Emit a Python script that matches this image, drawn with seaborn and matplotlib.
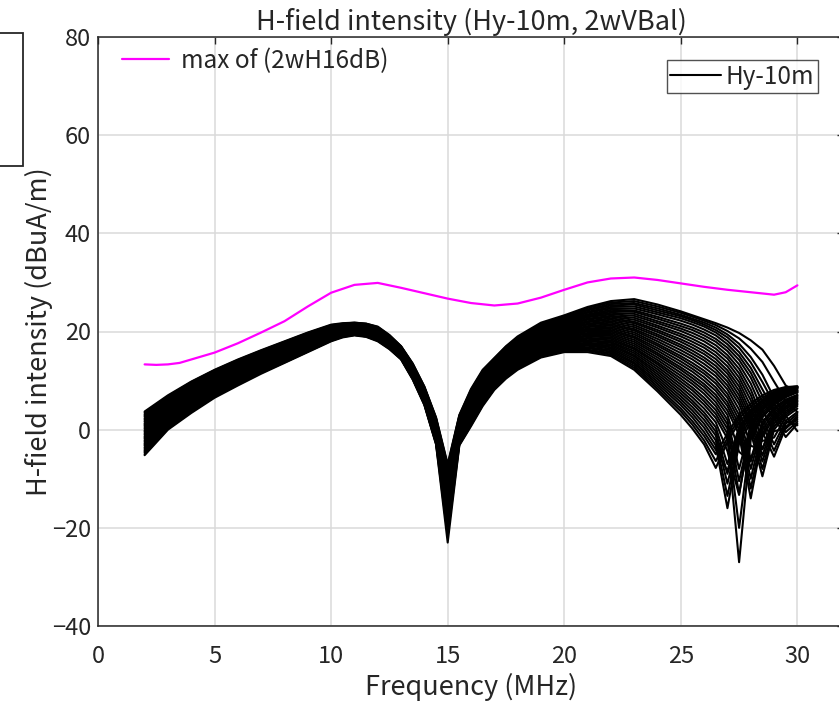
import numpy as np
import pandas as pd
import matplotlib
matplotlib.use("Agg")
import matplotlib.pyplot as plt
import seaborn as sns
from matplotlib.lines import Line2D
from matplotlib.patches import Rectangle

# ---------------- data (read / estimated from the reference) ----------------
freq_hy = [2, 3, 4, 5, 6, 7, 8, 9, 10, 10.5, 11, 11.5, 12, 12.5, 13, 13.5, 14, 14.5, 15, 15.5,
           16, 16.5, 17, 17.5, 18, 19, 20, 21, 22,
           23, 24, 25, 25.5, 26, 26.5, 27, 27.5, 28, 28.5, 29, 29.5, 30]

hy_01 = [-5.2, 0.0, 3.4, 6.5, 9.0, 11.4, 13.6, 15.8, 18.0, 18.8, 19.2, 18.9, 18.0, 16.4, 14.3, 10.2, 5.0, -3.0, -23.0, -3.2, 0.7, 4.8, 8.1, 10.4, 12.2, 14.7, 15.8, 15.8, 15.0,
         12.2, 7.8, 3.0, 0.2, -3.0, -7.8, -2.5, 1.5, 4.0, 6.0, 7.5, 8.5, 8.8]
hy_02 = [-5.0, 0.2, 3.6, 6.7, 9.2, 11.6, 13.7, 15.9, 18.1, 18.9, 19.3, 19.0, 18.1, 16.5, 14.4, 10.3, 5.1, -2.9, -21.5, -3.1, 0.9, 5.0, 8.3, 10.6, 12.4, 14.9, 16.0, 16.1, 15.3,
         12.6, 8.3, 3.7, 1.0, -2.2, -6.4, -1.7, 2.3, 4.7, 6.5, 7.8, 8.6, 8.8]
hy_03 = [-4.7, 0.4, 3.7, 6.8, 9.3, 11.7, 13.8, 16.0, 18.2, 19.0, 19.3, 19.0, 18.2, 16.6, 14.4, 10.4, 5.2, -2.7, -20.0, -2.9, 1.1, 5.2, 8.4, 10.7, 12.6, 15.1, 16.2, 16.3, 15.6,
         13.0, 8.8, 4.3, 1.7, -1.3, -5.0, -0.8, 3.0, 5.3, 7.0, 8.1, 8.7, 8.8]
hy_04 = [-4.5, 0.6, 3.9, 7.0, 9.5, 11.8, 14.0, 16.1, 18.3, 19.1, 19.4, 19.1, 18.3, 16.7, 14.5, 10.5, 5.3, -2.6, -19.0, -2.7, 1.3, 5.4, 8.6, 10.9, 12.8, 15.3, 16.4, 16.6, 15.9,
         13.4, 9.3, 5.0, 2.5, -0.5, -4.1, -8.4, 0.1, 3.4, 5.8, 7.3, 8.2, 8.6]
hy_05 = [-4.3, 0.7, 4.1, 7.1, 9.6, 11.9, 14.1, 16.2, 18.4, 19.1, 19.5, 19.2, 18.3, 16.7, 14.6, 10.5, 5.4, -2.4, -18.0, -2.5, 1.5, 5.6, 8.8, 11.1, 12.9, 15.4, 16.6, 16.8, 16.2,
         13.7, 9.8, 5.6, 3.2, 0.4, -3.2, -16.0, -2.8, 1.5, 4.5, 6.4, 7.6, 8.3]
hy_06 = [-4.1, 0.9, 4.3, 7.3, 9.7, 12.1, 14.2, 16.3, 18.5, 19.2, 19.6, 19.3, 18.4, 16.8, 14.7, 10.6, 5.5, -2.3, -17.3, -2.4, 1.7, 5.8, 9.0, 11.3, 13.1, 15.6, 16.8, 17.1, 16.5,
         14.1, 10.3, 6.2, 3.9, 1.2, -2.2, -13.5, -1.9, 2.2, 4.9, 6.7, 7.8, 8.4]
hy_07 = [-3.8, 1.1, 4.4, 7.4, 9.8, 12.2, 14.3, 16.4, 18.5, 19.3, 19.6, 19.3, 18.5, 16.9, 14.7, 10.7, 5.6, -2.1, -16.5, -2.2, 1.9, 6.0, 9.1, 11.4, 13.3, 15.8, 17.0, 17.3, 16.8,
         14.5, 10.8, 6.8, 4.6, 2.0, -1.2, -11.0, -1.0, 2.8, 5.3, 7.0, 8.0, 8.5]
hy_08 = [-3.6, 1.3, 4.6, 7.6, 10.0, 12.3, 14.4, 16.5, 18.6, 19.4, 19.7, 19.4, 18.6, 17.0, 14.8, 10.8, 5.7, -2.0, -16.0, -2.1, 2.1, 6.2, 9.3, 11.6, 13.5, 16.0, 17.2, 17.5, 17.1,
         14.9, 11.3, 7.4, 5.3, 2.8, -0.4, -9.0, -0.3, 3.4, 5.7, 7.2, 8.1, 8.6]
hy_09 = [-3.3, 1.5, 4.7, 7.7, 10.1, 12.4, 14.5, 16.6, 18.7, 19.4, 19.7, 19.5, 18.6, 17.0, 14.9, 10.9, 5.8, -1.8, -15.5, -1.9, 2.3, 6.4, 9.5, 11.8, 13.6, 16.2, 17.4, 17.7, 17.4,
         15.2, 11.8, 8.0, 5.9, 3.5, 0.5, -7.0, 0.5, 3.9, 6.0, 7.4, 8.2, 8.6]
hy_10 = [-3.1, 1.7, 4.9, 7.9, 10.3, 12.6, 14.7, 16.8, 18.8, 19.5, 19.8, 19.6, 18.7, 17.1, 15.0, 11.0, 5.9, -1.7, -15.0, -1.8, 2.5, 6.6, 9.7, 12.0, 13.8, 16.4, 17.6, 18.0, 17.7,
         15.6, 12.3, 8.6, 6.6, 4.3, 1.5, -4.4, -13.3, 1.0, 4.3, 6.2, 7.4, 8.1]
hy_11 = [-2.9, 1.8, 5.1, 8.0, 10.4, 12.7, 14.8, 16.9, 18.9, 19.6, 19.9, 19.6, 18.8, 17.2, 15.0, 11.1, 6.0, -1.6, -14.5, -1.6, 2.7, 6.7, 9.8, 12.1, 14.0, 16.6, 17.8, 18.2, 17.9,
         16.0, 12.8, 9.2, 7.3, 5.1, 2.4, -1.8, -27.0, -2.0, 2.5, 5.0, 6.6, 7.6]
hy_12 = [-2.7, 2.0, 5.3, 8.2, 10.6, 12.8, 14.9, 17.0, 19.0, 19.7, 20.0, 19.7, 18.9, 17.3, 15.1, 11.2, 6.1, -1.5, -14.1, -1.4, 2.9, 6.9, 10.0, 12.3, 14.2, 16.8, 18.0, 18.5, 18.2,
         16.4, 13.3, 9.8, 8.0, 5.8, 3.2, -0.8, -20.0, -1.3, 3.0, 5.4, 6.8, 7.7]
hy_13 = [-2.4, 2.2, 5.4, 8.3, 10.7, 12.9, 15.0, 17.1, 19.1, 19.7, 20.0, 19.8, 18.9, 17.3, 15.2, 11.2, 6.2, -1.3, -13.7, -1.2, 3.1, 7.1, 10.2, 12.5, 14.4, 16.9, 18.2, 18.7, 18.5,
         16.7, 13.7, 10.4, 8.6, 6.5, 4.0, 0.2, -13.0, -0.5, 3.5, 5.7, 7.0, 7.8]
hy_14 = [-2.2, 2.4, 5.6, 8.5, 10.9, 13.1, 15.1, 17.2, 19.2, 19.8, 20.1, 19.9, 19.0, 17.4, 15.3, 11.3, 6.3, -1.2, -13.4, -1.1, 3.3, 7.3, 10.4, 12.7, 14.6, 17.1, 18.4, 19.0, 18.8,
         17.1, 14.2, 11.0, 9.3, 7.3, 4.8, 1.1, -10.5, 0.3, 4.0, 6.0, 7.2, 7.9]
hy_15 = [-1.9, 2.6, 5.8, 8.6, 11.0, 13.2, 15.2, 17.3, 19.3, 19.9, 20.2, 19.9, 19.1, 17.5, 15.3, 11.4, 6.4, -1.0, -13.0, -0.9, 3.5, 7.5, 10.5, 12.8, 14.7, 17.3, 18.6, 19.2, 19.1,
         17.5, 14.7, 11.6, 9.9, 8.0, 5.6, 2.0, -8.0, 1.0, 4.4, 6.3, 7.4, 8.0]
hy_16 = [-1.7, 2.8, 6.0, 8.8, 11.1, 13.3, 15.4, 17.4, 19.4, 20.0, 20.3, 20.0, 19.2, 17.6, 15.4, 11.5, 6.5, -0.9, -12.7, -0.8, 3.7, 7.7, 10.7, 13.0, 14.9, 17.5, 18.8, 19.5, 19.4,
         17.9, 15.2, 12.2, 10.5, 8.7, 6.4, 3.0, -4.5, -6.5, 1.5, 4.4, 6.1, 7.1]
hy_17 = [-1.5, 2.9, 6.1, 8.9, 11.2, 13.4, 15.5, 17.5, 19.4, 20.0, 20.3, 20.0, 19.3, 17.6, 15.4, 11.6, 6.6, -0.7, -12.4, -0.6, 3.9, 7.9, 10.8, 13.2, 15.1, 17.7, 19.0, 19.7, 19.7,
         18.3, 15.6, 12.7, 11.1, 9.3, 7.1, 3.9, -1.0, -14.0, -1.5, 2.5, 4.8, 6.2]
hy_18 = [-1.3, 3.1, 6.3, 9.1, 11.4, 13.6, 15.6, 17.6, 19.5, 20.1, 20.4, 20.1, 19.4, 17.7, 15.5, 11.7, 6.7, -0.6, -12.1, -0.5, 4.1, 8.1, 11.0, 13.4, 15.3, 17.9, 19.2, 20.0, 20.0,
         18.7, 16.1, 13.3, 11.8, 10.0, 7.9, 4.8, 0.0, -12.0, -0.8, 3.0, 5.2, 6.4]
hy_19 = [-1.0, 3.3, 6.4, 9.2, 11.5, 13.7, 15.7, 17.7, 19.6, 20.2, 20.4, 20.2, 19.4, 17.8, 15.6, 11.8, 6.8, -0.4, -11.8, -0.3, 4.3, 8.3, 11.2, 13.5, 15.4, 18.1, 19.4, 20.2, 20.3,
         19.0, 16.6, 13.9, 12.4, 10.7, 8.6, 5.6, 1.0, -10.0, 0.0, 3.5, 5.5, 6.6]
hy_20 = [-0.8, 3.5, 6.6, 9.4, 11.7, 13.8, 15.8, 17.8, 19.7, 20.3, 20.5, 20.3, 19.5, 17.9, 15.7, 11.9, 6.9, -0.3, -11.6, -0.1, 4.5, 8.5, 11.4, 13.7, 15.6, 18.3, 19.6, 20.4, 20.6,
         19.4, 17.1, 14.5, 13.0, 11.4, 9.4, 6.5, 2.0, -8.0, 0.8, 4.0, 5.8, 6.8]
hy_21 = [-0.5, 3.7, 6.8, 9.5, 11.8, 13.9, 15.9, 17.9, 19.8, 20.3, 20.6, 20.3, 19.6, 17.9, 15.7, 11.9, 7.0, -0.1, -11.3, 0.1, 4.7, 8.7, 11.5, 13.9, 15.8, 18.4, 19.7, 20.6, 20.9,
         19.8, 17.5, 15.0, 13.6, 12.0, 10.1, 7.3, 3.0, -6.0, 1.5, 4.5, 6.1, 7.0]
hy_22 = [-0.3, 3.9, 7.0, 9.7, 12.0, 14.1, 16.1, 18.0, 19.9, 20.4, 20.7, 20.4, 19.7, 18.0, 15.8, 12.0, 7.1, 0.1, -11.1, 0.3, 4.9, 8.9, 11.7, 14.1, 16.0, 18.6, 19.9, 20.9, 21.2,
         20.2, 18.0, 15.6, 14.3, 12.7, 10.9, 8.2, 4.1, -3.3, -4.0, 2.3, 4.6, 5.9]
hy_23 = [-0.1, 4.1, 7.1, 9.8, 12.1, 14.2, 16.2, 18.1, 20.0, 20.5, 20.7, 20.5, 19.7, 18.1, 15.9, 12.1, 7.2, 0.2, -10.8, 0.4, 5.1, 9.1, 11.9, 14.2, 16.1, 18.8, 20.1, 21.1, 21.5,
         20.5, 18.5, 16.2, 14.9, 13.4, 11.6, 9.0, 5.2, -0.5, -9.5, 0.0, 3.0, 4.8]
hy_24 = [0.2, 4.3, 7.3, 10.0, 12.2, 14.3, 16.3, 18.2, 20.1, 20.6, 20.8, 20.6, 19.8, 18.2, 16.0, 12.2, 7.3, 0.4, -10.6, 0.6, 5.3, 9.3, 12.1, 14.4, 16.3, 19.0, 20.3, 21.4, 21.8,
         20.9, 19.0, 16.8, 15.5, 14.1, 12.3, 9.8, 6.1, 0.6, -8.0, 0.6, 3.4, 5.1]
hy_25 = [0.4, 4.4, 7.4, 10.1, 12.3, 14.4, 16.4, 18.3, 20.1, 20.6, 20.8, 20.6, 19.9, 18.2, 16.0, 12.3, 7.4, 0.5, -10.3, 0.7, 5.5, 9.5, 12.2, 14.6, 16.5, 19.2, 20.5, 21.6, 22.1,
         21.3, 19.4, 17.3, 16.1, 14.7, 13.0, 10.6, 7.0, 1.6, -6.5, 1.2, 3.8, 5.3]
hy_26 = [0.7, 4.6, 7.6, 10.3, 12.5, 14.6, 16.5, 18.4, 20.2, 20.7, 20.9, 20.7, 20.0, 18.3, 16.1, 12.4, 7.5, 0.7, -10.1, 0.9, 5.7, 9.7, 12.4, 14.8, 16.7, 19.4, 20.7, 21.9, 22.4,
         21.7, 19.9, 17.9, 16.7, 15.4, 13.7, 11.4, 7.9, 2.6, -5.3, 1.8, 4.2, 5.6]
hy_27 = [0.9, 4.8, 7.8, 10.4, 12.6, 14.7, 16.6, 18.5, 20.3, 20.8, 21.0, 20.7, 20.1, 18.4, 16.1, 12.5, 7.6, 0.8, -9.9, 1.0, 5.9, 9.9, 12.5, 14.9, 16.9, 19.6, 20.9, 22.1, 22.7,
         22.0, 20.3, 18.4, 17.3, 16.0, 14.4, 12.1, 8.8, 3.6, -4.0, 2.4, 4.6, 5.8]
hy_28 = [1.1, 5.0, 8.0, 10.6, 12.8, 14.8, 16.7, 18.6, 20.4, 20.9, 21.1, 20.8, 20.2, 18.5, 16.2, 12.6, 7.7, 0.9, -9.7, 1.2, 6.1, 10.1, 12.7, 15.1, 17.1, 19.8, 21.1, 22.4, 23.0,
         22.4, 20.8, 19.0, 17.9, 16.7, 15.1, 12.9, 9.7, 4.8, -2.3, -1.6, 2.6, 4.3]
hy_29 = [1.3, 5.2, 8.1, 10.7, 12.9, 14.9, 16.8, 18.7, 20.5, 20.9, 21.1, 20.9, 20.2, 18.5, 16.3, 12.6, 7.8, 1.0, -9.5, 1.4, 6.3, 10.3, 12.9, 15.3, 17.2, 19.9, 21.3, 22.6, 23.2,
         22.8, 21.2, 19.5, 18.5, 17.3, 15.8, 13.7, 10.6, 6.0, -0.5, -5.5, 0.5, 2.8]
hy_30 = [1.6, 5.4, 8.3, 10.9, 13.1, 15.1, 17.0, 18.9, 20.6, 21.0, 21.2, 21.0, 20.3, 18.6, 16.4, 12.7, 7.9, 1.2, -9.3, 1.6, 6.5, 10.5, 13.1, 15.5, 17.4, 20.1, 21.5, 22.9, 23.5,
         23.2, 21.7, 20.1, 19.1, 18.0, 16.5, 14.5, 11.5, 7.1, 0.9, -4.3, 1.2, 3.2]
hy_31 = [1.8, 5.5, 8.5, 11.0, 13.2, 15.2, 17.1, 19.0, 20.7, 21.1, 21.3, 21.0, 20.4, 18.7, 16.4, 12.8, 8.0, 1.3, -9.1, 1.7, 6.7, 10.6, 13.2, 15.6, 17.6, 20.3, 21.7, 23.1, 23.8,
         23.6, 22.1, 20.6, 19.7, 18.6, 17.2, 15.2, 12.4, 8.2, 2.3, -3.0, 1.8, 3.6]
hy_32 = [2.1, 5.7, 8.7, 11.2, 13.4, 15.3, 17.2, 19.1, 20.8, 21.2, 21.4, 21.1, 20.5, 18.8, 16.5, 12.9, 8.1, 1.5, -8.9, 1.9, 6.9, 10.8, 13.4, 15.8, 17.8, 20.5, 21.9, 23.3, 24.1,
         24.0, 22.6, 21.1, 20.3, 19.2, 17.9, 16.0, 13.3, 9.4, 4.0, -0.3, 0.2, 2.4]
hy_33 = [2.3, 5.9, 8.8, 11.3, 13.5, 15.4, 17.3, 19.2, 20.9, 21.2, 21.4, 21.2, 20.5, 18.8, 16.6, 13.0, 8.2, 1.6, -8.7, 2.0, 7.1, 11.0, 13.6, 16.0, 17.9, 20.7, 22.1, 23.5, 24.4,
         24.3, 23.0, 21.6, 20.8, 19.8, 18.5, 16.7, 14.2, 10.6, 5.6, 2.5, -1.5, 1.2]
hy_34 = [2.6, 6.1, 9.0, 11.5, 13.6, 15.6, 17.4, 19.3, 21.0, 21.3, 21.5, 21.3, 20.6, 18.9, 16.7, 13.1, 8.3, 1.8, -8.5, 2.2, 7.3, 11.2, 13.8, 16.2, 18.1, 20.9, 22.3, 23.8, 24.7,
         24.7, 23.5, 22.2, 21.4, 20.4, 19.2, 17.4, 15.0, 11.6, 6.9, 3.3, -0.5, 1.6]
hy_35 = [2.8, 6.3, 9.1, 11.6, 13.7, 15.7, 17.5, 19.4, 21.0, 21.4, 21.5, 21.3, 20.7, 19.0, 16.7, 13.1, 8.4, 1.9, -8.2, 2.3, 7.5, 11.4, 13.9, 16.3, 18.3, 21.1, 22.5, 24.0, 25.0,
         25.1, 23.9, 22.7, 21.9, 21.0, 19.8, 18.1, 15.8, 12.6, 8.2, 4.0, 0.5, 2.0]
hy_36 = [3.0, 6.5, 9.3, 11.8, 13.9, 15.8, 17.7, 19.5, 21.1, 21.5, 21.6, 21.4, 20.8, 19.1, 16.8, 13.2, 8.5, 2.1, -7.9, 2.5, 7.7, 11.6, 14.1, 16.5, 18.5, 21.3, 22.7, 24.3, 25.3,
         25.5, 24.3, 23.1, 22.3, 21.4, 20.3, 18.8, 16.7, 13.7, 9.7, 5.3, 1.7, 0.9]
hy_37 = [3.2, 6.6, 9.5, 11.9, 14.0, 15.9, 17.8, 19.6, 21.2, 21.5, 21.7, 21.5, 20.8, 19.1, 16.9, 13.3, 8.6, 2.2, -7.6, 2.7, 7.9, 11.8, 14.3, 16.7, 18.6, 21.4, 22.9, 24.5, 25.6,
         25.8, 24.7, 23.4, 22.6, 21.8, 20.8, 19.4, 17.5, 14.8, 11.2, 6.5, 2.8, -0.3]
hy_38 = [3.5, 6.8, 9.7, 12.1, 14.2, 16.1, 17.9, 19.7, 21.3, 21.6, 21.8, 21.6, 20.9, 19.2, 17.0, 13.4, 8.7, 2.4, -7.3, 2.9, 8.1, 12.0, 14.5, 16.9, 18.8, 21.6, 23.1, 24.8, 25.9,
         26.2, 25.1, 23.8, 23.0, 22.2, 21.3, 20.1, 18.6, 16.5, 13.8, 9.8, 5.9, 3.6]
hy_39 = [3.7, 7.0, 9.8, 12.2, 14.3, 16.2, 18.0, 19.8, 21.4, 21.7, 21.8, 21.6, 21.0, 19.3, 17.0, 13.5, 8.8, 2.5, -7.0, 3.0, 8.3, 12.2, 14.6, 17.0, 19.0, 21.8, 23.3, 25.0, 26.2,
         26.6, 25.5, 24.1, 23.3, 22.5, 21.7, 20.8, 19.7, 18.2, 16.3, 13.0, 9.0, 7.5]

freq_max = [2, 2.5, 3, 3.5, 4, 5, 6, 7, 8, 9, 10, 11, 12, 13, 14, 15, 16, 17, 18, 19,
            20, 21, 22, 23, 24, 25, 26, 27, 28, 29, 29.5, 30]
max_2wH16dB = [13.3, 13.2, 13.3, 13.6, 14.3, 15.7, 17.6, 19.8, 22.1, 25.1, 27.9, 29.5, 29.9, 28.9, 27.8, 26.7,
               25.8, 25.3, 25.7, 26.9, 28.5, 30.0, 30.8, 31.0, 30.5, 29.8, 29.1, 28.5, 28.0, 27.5, 28.0, 29.4]

x_ticks = [0, 5, 10, 15, 20, 25, 30]
y_ticks = [-40, -20, 0, 20, 40, 60, 80]

hy_curves = [hy_01, hy_02, hy_03, hy_04, hy_05, hy_06, hy_07, hy_08, hy_09, hy_10,
             hy_11, hy_12, hy_13, hy_14, hy_15, hy_16, hy_17, hy_18, hy_19, hy_20,
             hy_21, hy_22, hy_23, hy_24, hy_25, hy_26, hy_27, hy_28, hy_29, hy_30,
             hy_31, hy_32, hy_33, hy_34, hy_35, hy_36, hy_37, hy_38, hy_39]

frames = []
for i, c in enumerate(hy_curves):
    assert len(c) == len(freq_hy), (i, len(c))
    frames.append(pd.DataFrame({"freq": freq_hy, "val": c, "curve": i}))
df_hy = pd.concat(frames, ignore_index=True)
df_max = pd.DataFrame({"freq": freq_max, "val": max_2wH16dB})

# ---------------- style ----------------
sns.set_theme(style="white")
plt.rcParams["font.family"] = ["Noto Sans CJK JP", "DejaVu Sans"]
dark = "#262626"
fs_tick = 17
fs_lab = 19.5
fs_leg = 17.5

W, H = 839, 701
fig = plt.figure(figsize=(W / 100, H / 100), dpi=100)
fig.patch.set_facecolor("white")
ax = fig.add_axes([98 / W, 75 / H, 746 / W, 589 / H])

sns.lineplot(data=df_hy, x="freq", y="val", units="curve", estimator=None,
             color="black", linewidth=1.5, sort=False, legend=False, ax=ax)
sns.lineplot(data=df_max, x="freq", y="val", color="#ff00ff", linewidth=1.6,
             legend=False, ax=ax)

ax.set_xlim(0, 32)
ax.set_ylim(-40, 80)
ax.set_xticks(x_ticks)
ax.set_yticks(y_ticks)
ax.grid(True, color="#dadada", linewidth=1.1)
ax.set_axisbelow(True)
ax.tick_params(direction="in", length=5, width=1.0, top=True, right=True,
               labelsize=fs_tick, colors=dark)
ax.tick_params(axis="x", pad=14)
ax.tick_params(axis="y", pad=5)
for s in ax.spines.values():
    s.set_color(dark)
    s.set_linewidth(1.1)

ax.set_xlabel("Frequency (MHz)", fontsize=fs_lab, color=dark, labelpad=3)
ax.set_ylabel("H-field intensity (dBuA/m)", fontsize=fs_lab, color=dark, labelpad=-1)
ax.set_title("H-field intensity (Hy-10m, 2wVBal)", fontsize=fs_lab, color=dark, pad=5)

# legends
h_max = Line2D([], [], color="#ff00ff", linewidth=1.6)
leg1 = ax.legend([h_max], ["max of (2wH16dB)"], loc="center left",
                 bbox_to_anchor=((122 - 98) / 746, (626 - 61) / 589),
                 frameon=False, fontsize=fs_leg, borderpad=0, borderaxespad=0,
                 handlelength=46 / 24, handletextpad=0.5)
for t in leg1.get_texts():
    t.set_color(dark)
ax.add_artist(leg1)

h_hy = Line2D([], [], color="black", linewidth=1.5)
leg2 = ax.legend([h_hy], ["Hy-10m"], loc="upper right",
                 bbox_to_anchor=((818 - 98) / 746, (626 - 60) / 589),
                 frameon=True, fancybox=False, fontsize=fs_leg, borderpad=0.15,
                 borderaxespad=0, handlelength=50 / 24, handletextpad=0.2)
leg2.get_frame().set_edgecolor(dark)
leg2.get_frame().set_linewidth(1.0)
for t in leg2.get_texts():
    t.set_color(dark)

# partially visible box at the far left (cut off by the figure edge)
fig.add_artist(Rectangle((-10 / W, (H - 166) / H), 33 / W, 133 / H,
                         transform=fig.transFigure, facecolor="white",
                         edgecolor=dark, linewidth=1.3, clip_on=False))

fig.savefig("out.png", dpi=100)
